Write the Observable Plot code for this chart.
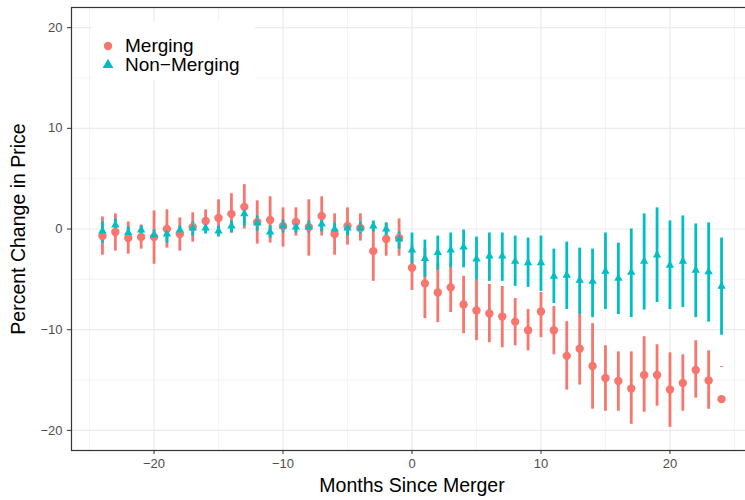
<!DOCTYPE html>
<html><head><meta charset="utf-8">
<script src="https://cdn.jsdelivr.net/npm/d3@7"></script>
<script src="https://cdn.jsdelivr.net/npm/@observablehq/plot@0.6"></script>
<style>
body{margin:0;background:#fff;font-family:"Liberation Sans",Arial,sans-serif;}
#wrap{position:relative;width:745px;height:500px;overflow:hidden;}
#legend{position:absolute;left:92px;top:22px;width:163px;height:58px;background:#fff;}
.row{position:absolute;left:0;height:18px;}
.row svg{position:absolute;left:7px;top:0;}
.row span{position:absolute;left:33px;top:0;font-size:19px;color:#000;white-space:nowrap;line-height:18px;}
</style></head><body><div id="wrap"></div>
<script>
const months = [-24,-23,-22,-21,-20,-19,-18,-17,-16,-15,-14,-13,-12,-11,-10,-9,-8,-7,-6,-5,-4,-3,-2,-1,0,1,2,3,4,5,6,7,8,9,10,11,12,13,14,15,16,17,18,19,20,21,22,23,24];
const mergingEst = [-0.7,-0.3,-0.9,-0.8,-0.8,0.0,-0.5,0.2,0.8,1.1,1.5,2.2,0.7,0.9,0.3,0.7,0.2,1.3,-0.5,0.3,0.1,-2.2,-1.0,-0.9,-3.85,-5.4,-6.3,-5.8,-7.5,-8.1,-8.4,-8.7,-9.2,-10.05,-8.2,-10.05,-12.6,-11.9,-13.6,-14.8,-15.1,-15.85,-14.5,-14.5,-15.95,-15.3,-14.0,-15.05,-16.9];
const mergingLo = [-2.6,-2.2,-2.5,-2.0,-3.5,-1.9,-2.2,-1.3,-0.4,-0.5,-0.4,0.0,-1.5,-1.4,-1.8,-0.7,-2.7,-0.7,-2.6,-1.6,-1.2,-5.2,-2.7,-2.7,-6.1,-8.9,-9.3,-8.3,-10.4,-11.1,-11.3,-11.8,-11.6,-12.1,-10.8,-12.5,-16.0,-15.5,-17.9,-18.1,-18.1,-19.4,-18.2,-17.6,-19.7,-18.1,-16.8,-17.9,-13.75];
const mergingHi = [1.2,1.5,0.7,0.4,1.8,1.9,1.1,1.6,1.9,2.9,3.5,4.4,2.8,3.2,2.1,2.1,2.9,3.2,1.5,2.1,1.5,0.6,0.6,1.0,-1.6,-1.9,-3.4,-3.4,-4.7,-5.1,-5.5,-5.7,-6.9,-8.0,-6.3,-7.7,-9.2,-8.4,-9.4,-11.6,-12.2,-12.2,-10.7,-11.5,-12.3,-12.5,-11.1,-12.1,-13.65];
const nonEst = [-0.2,0.4,-0.35,-0.1,-0.6,-0.5,-0.1,0.1,0.1,-0.2,0.3,1.5,0.6,-0.3,0.3,0.2,0.2,0.5,0.0,0.1,0.1,0.3,0.0,-1.0,-2.1,-2.95,-2.35,-2.1,-1.8,-3.0,-2.7,-2.7,-3.2,-3.35,-3.35,-4.7,-4.6,-5.1,-5.2,-4.2,-4.9,-4.3,-3.2,-2.6,-3.6,-3.2,-4.1,-4.25,-5.7];
const nonLo = [-1.4,-0.3,-1.0,-0.8,-1.1,-1.4,-0.8,-0.7,-0.5,-0.8,-0.4,0.3,-0.2,-0.9,-0.4,-0.4,-0.4,-0.3,-0.7,-0.7,-0.5,-0.3,-0.8,-2.0,-4.0,-4.8,-4.1,-3.85,-3.85,-5.1,-5.2,-5.2,-5.7,-5.8,-6.2,-7.4,-8.0,-8.5,-8.8,-8.0,-8.5,-8.8,-8.05,-7.3,-8.0,-7.8,-8.8,-9.25,-10.55];
const nonHi = [0.7,1.0,0.2,0.3,-0.1,0.0,0.3,0.7,0.6,0.3,0.8,2.3,1.3,0.3,0.9,0.8,0.8,1.1,0.6,0.6,0.7,0.8,0.6,-0.3,-0.4,-1.1,-0.7,-0.4,-0.1,-0.8,-0.4,-0.4,-0.7,-0.9,-0.7,-2.0,-1.3,-1.9,-2.0,-0.4,-1.4,0.0,1.5,2.1,0.8,1.3,0.5,0.6,-0.9];
const seriesNames = ["Merging", "Non-Merging"];
const legendLabels = ["Merging", "Non\u2212Merging"];
const seriesColors = ["#F8766D", "#00BFC4"];
const yMajor = [-20,-10,0,10,20];
const yMinor = [-15,-5,5,15];
const xMajor = [-20,-10,0,10,20];
const xMinor = [-25,-15,-5,5,15,25];
const xTitle = "Months Since Merger";
const yTitle = "Percent Change in Price";

const merging = months.map((m,i)=>({month:m, est:mergingEst[i], lo:mergingLo[i], hi:mergingHi[i]}));
const nonMerging = months.map((m,i)=>({month:m, est:nonEst[i], lo:nonLo[i], hi:nonHi[i]}));

const grid = "#EBEBEB";
const chart = Plot.plot({
  width: 745, height: 500,
  marginLeft: 71, marginRight: -7, marginTop: 7, marginBottom: 50,
  x: {domain: [-26.4, 26.4]},
  y: {domain: [-22, 22]},
  style: {fontFamily: "'Liberation Sans', Arial, sans-serif", background: "white"},
  marks: [
    Plot.ruleY(yMinor, {stroke: grid, strokeWidth: 0.6}),
    Plot.ruleX(xMinor, {stroke: grid, strokeWidth: 0.6}),
    Plot.ruleY(yMajor, {stroke: grid, strokeWidth: 1.2}),
    Plot.ruleX(xMajor, {stroke: grid, strokeWidth: 1.2}),
    Plot.ruleX(merging, {x: "month", y1: "lo", y2: "hi", stroke: seriesColors[0], strokeWidth: 2.8}),
    Plot.ruleX(nonMerging, {x: "month", y1: "lo", y2: "hi", stroke: seriesColors[1], strokeWidth: 2.8}),
    Plot.dot(merging, {x: "month", y: "est", r: 4.2, fill: seriesColors[0], symbol: "circle"}),
    Plot.dot(nonMerging, {x: "month", y: "est", r: 4.0, fill: seriesColors[1], symbol: "triangle2"}),
    Plot.frame({stroke: "#333333", strokeWidth: 1.2}),
    Plot.axisY(yMajor, {tickSize: 4, tickPadding: 5, fontSize: 13, stroke: "#333333", fill: "#4D4D4D", label: null}),
    Plot.axisX(xMajor, {tickSize: 4, tickPadding: 4, fontSize: 13, stroke: "#333333", fill: "#4D4D4D", label: null}),
    Plot.text([yTitle], {text: d => d, frameAnchor: "left", rotate: -90, dx: -53, textAnchor: "middle", lineAnchor: "middle", fontSize: 19.5, fill: "black"}),
    Plot.text([xTitle], {text: d => d, frameAnchor: "bottom", dy: 35, textAnchor: "middle", lineAnchor: "middle", fontSize: 19.5, fill: "black"})
  ]
});
const wrap = document.getElementById("wrap");
wrap.appendChild(chart);

// legend overlay inside the panel
const legend = document.createElement("div");
legend.id = "legend";
const symbols = [d3.symbolCircle, d3.symbolTriangle];
const sizes = [Math.PI*4.2*4.2, Math.PI*4.0*4.0];
legendLabels.forEach((lab, i) => {
  const row = document.createElement("div");
  row.className = "row";
  row.style.top = (15 + i*19) + "px";
  const svg = d3.create("svg").attr("width", 18).attr("height", 18);
  svg.append("path").attr("transform", "translate(9,9)")
     .attr("d", d3.symbol(symbols[i], sizes[i])()).attr("fill", seriesColors[i]);
  row.appendChild(svg.node());
  const sp = document.createElement("span");
  sp.textContent = lab;
  row.appendChild(sp);
  legend.appendChild(row);
});
wrap.appendChild(legend);
</script>
</body></html>
